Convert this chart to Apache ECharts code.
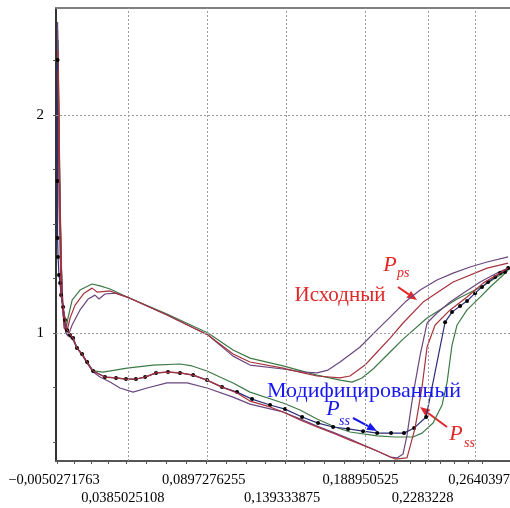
<!DOCTYPE html>
<html lang="ru">
<head>
<meta charset="UTF-8">
<title>Распределение давления</title>
<script src="https://cdn.jsdelivr.net/npm/echarts@6.0.0/dist/echarts.min.js"></script>
<style>
  html, body { margin: 0; padding: 0; background: #fff; }
  #chart { width: 510px; height: 508px; }
</style>
</head>
<body>
<div id="chart"></div>
<script>
// axis ticks as printed on the original
const xTickValues = [-0.0050271763, 0.0385025108, 0.0897276255, 0.139333875, 0.188950525, 0.2283228, 0.2640397];
const xTickLabels = ['−0,0050271763', '0,0385025108', '0,0897276255', '0,139333875', '0,188950525', '0,2283228', '0,2640397'];
const yTickValues = [1, 2];
const yTickLabels = ['1', '2'];
const yMinorTicks = [0.5, 0.75, 1, 1.25, 1.5, 1.75, 2, 2.25];

// green: pressure side / suction side
const greenPs = [[-0.0044,2.344],[-0.0031,1.610],[-0.0019,1.197],[-0.0006,1.037],[0.0006,1.014],[0.0019,1.069],[0.0045,1.151],[0.0095,1.197],[0.0171,1.225],[0.0222,1.216],[0.0285,1.202],[0.0393,1.165],[0.0646,1.087],[0.0905,1.000],[0.1064,0.922],[0.1171,0.885],[0.1380,0.849],[0.1595,0.807],[0.1741,0.784],[0.1817,0.775],[0.1880,0.794],[0.1950,0.835],[0.2058,0.913],[0.2140,0.972],[0.2292,1.069],[0.2482,1.156],[0.2647,1.216],[0.2735,1.257],[0.2805,1.289]];
const greenSs = [[-0.0044,2.252],[-0.0031,1.518],[-0.0019,1.174],[-0.0006,1.050],[0.0013,1.009],[0.0051,0.972],[0.0076,0.931],[0.0108,0.904],[0.0140,0.862],[0.0178,0.826],[0.0241,0.821],[0.0317,0.830],[0.0393,0.839],[0.0557,0.853],[0.0728,0.858],[0.0804,0.849],[0.0899,0.826],[0.0994,0.794],[0.1064,0.771],[0.1171,0.729],[0.1380,0.679],[0.1488,0.647],[0.1595,0.606],[0.1710,0.569],[0.1804,0.546],[0.1976,0.528],[0.2089,0.523],[0.2203,0.523],[0.2260,0.541],[0.2330,0.587],[0.2387,0.670],[0.2419,0.775],[0.2450,0.945],[0.2482,1.037],[0.2545,1.106],[0.2628,1.165],[0.2691,1.211],[0.2774,1.266],[0.2805,1.289]];

// red (original)
const redPs = [[-0.0044,2.298],[-0.0031,1.564],[-0.0019,1.174],[-0.0006,1.023],[0.0013,1.009],[0.0032,1.069],[0.0064,1.128],[0.0121,1.183],[0.0171,1.206],[0.0203,1.188],[0.0285,1.193],[0.0393,1.165],[0.0646,1.083],[0.0905,0.991],[0.1064,0.904],[0.1171,0.867],[0.1380,0.839],[0.1507,0.817],[0.1595,0.803],[0.1741,0.794],[0.1804,0.803],[0.1899,0.853],[0.1976,0.913],[0.2058,0.977],[0.2140,1.046],[0.2267,1.142],[0.2457,1.234],[0.2672,1.298],[0.2805,1.321]];
const redSs = [[-0.0044,2.206],[-0.0031,1.472],[-0.0025,1.174],[-0.0012,1.119],[0.0013,1.014],[0.0051,0.977],[0.0076,0.931],[0.0108,0.904],[0.0140,0.867],[0.0178,0.826],[0.0253,0.798],[0.0323,0.794],[0.0386,0.789],[0.0449,0.789],[0.0507,0.798],[0.0576,0.817],[0.0652,0.821],[0.0728,0.817],[0.0811,0.807],[0.0899,0.784],[0.0994,0.752],[0.1089,0.725],[0.1171,0.688],[0.1298,0.661],[0.1380,0.638],[0.1488,0.601],[0.1595,0.569],[0.1710,0.537],[0.1804,0.509],[0.1887,0.486],[0.1976,0.459],[0.2089,0.422],[0.2165,0.427],[0.2216,0.564],[0.2260,0.752],[0.2292,0.936],[0.2343,1.037],[0.2438,1.106],[0.2545,1.165],[0.2647,1.229],[0.2754,1.275],[0.2805,1.298]];

// purple
const purplePs = [[-0.0047,2.427],[-0.0038,1.839],[-0.0025,1.335],[-0.0012,1.106],[0.0006,1.000],[0.0019,0.986],[0.0045,1.037],[0.0095,1.106],[0.0146,1.156],[0.0190,1.174],[0.0215,1.156],[0.0253,1.179],[0.0317,1.183],[0.0393,1.165],[0.0646,1.083],[0.0905,0.991],[0.1064,0.894],[0.1171,0.853],[0.1380,0.835],[0.1507,0.821],[0.1595,0.817],[0.1665,0.830],[0.1741,0.867],[0.1868,0.936],[0.1963,1.005],[0.2058,1.073],[0.2153,1.142],[0.2248,1.197],[0.2355,1.243],[0.2457,1.275],[0.2564,1.303],[0.2672,1.326],[0.2805,1.349]];
const purpleSs = [[-0.0047,2.390],[-0.0038,1.610],[-0.0025,1.197],[-0.0012,1.083],[0.0006,1.000],[0.0051,0.968],[0.0076,0.931],[0.0108,0.899],[0.0140,0.862],[0.0178,0.821],[0.0222,0.798],[0.0285,0.775],[0.0348,0.748],[0.0431,0.729],[0.0519,0.748],[0.0646,0.771],[0.0773,0.771],[0.0899,0.748],[0.1064,0.706],[0.1171,0.674],[0.1380,0.638],[0.1488,0.606],[0.1595,0.573],[0.1710,0.541],[0.1804,0.514],[0.1887,0.486],[0.1976,0.459],[0.2058,0.431],[0.2102,0.427],[0.2140,0.445],[0.2165,0.532],[0.2203,0.716],[0.2248,0.899],[0.2292,1.046],[0.2355,1.092],[0.2438,1.142],[0.2520,1.183],[0.2628,1.234],[0.2735,1.275],[0.2805,1.298]];

// modified suction side (dots)
const modifiedSs = [[-0.0047,2.252],[-0.0047,1.697],[-0.0047,1.436],[-0.0044,1.349],[-0.0038,1.266],[-0.0031,1.229],[-0.0025,1.174],[-0.0012,1.119],[0.0000,1.060],[0.0013,1.014],[0.0032,0.991],[0.0051,0.977],[0.0076,0.931],[0.0108,0.904],[0.0140,0.867],[0.0178,0.826],[0.0253,0.798],[0.0323,0.794],[0.0386,0.789],[0.0449,0.789],[0.0507,0.798],[0.0576,0.817],[0.0652,0.821],[0.0728,0.817],[0.0811,0.807],[0.0899,0.784],[0.0994,0.752],[0.1089,0.729],[0.1184,0.697],[0.1298,0.670],[0.1393,0.651],[0.1501,0.615],[0.1602,0.587],[0.1697,0.569],[0.1792,0.560],[0.1887,0.550],[0.1976,0.541],[0.2064,0.541],[0.2146,0.541],[0.2210,0.564],[0.2286,0.615],[0.2406,1.050],[0.2450,1.096],[0.2501,1.124],[0.2545,1.147],[0.2596,1.183],[0.2640,1.211],[0.2678,1.234],[0.2723,1.257],[0.2754,1.275],[0.2786,1.280],[0.2805,1.298]];

const GREEN = '#3e7a46', RED = '#a8323e', PURPLE = '#6b4680', NAVY = '#2b2f7a';
const SERIF = '"Liberation Serif", "DejaVu Serif", serif';
const X_MIN = -0.0057, X_MAX = 0.2817;

// small ticks: each labelled interval split in 4
const xMinorTicks = [];
for (let i = 0; i < xTickValues.length - 1; i++) {
    const a = xTickValues[i], b = xTickValues[i + 1];
    for (let k = 0; k < 4; k++) xMinorTicks.push(a + (b - a) * k / 4);
}
xMinorTicks.push(xTickValues[xTickValues.length - 1]);

// labels alternate between two rows
const rowA = xTickValues.filter(function (v, i) { return i % 2 === 0; });
const rowB = xTickValues.filter(function (v, i) { return i % 2 === 1; });

function labelFor(value) {
    let best = 0;
    xTickValues.forEach(function (v, i) {
        if (Math.abs(v - value) < Math.abs(xTickValues[best] - value)) best = i;
    });
    return xTickLabels[best];
}

function curve(name, data, color, z) {
    return { name: name, type: 'line', data: data, symbol: 'none', z: z,
        lineStyle: { color: color, width: 1.2 } };
}

function arrow(x1, y1, x2, y2, color) {
    const dx = x2 - x1, dy = y2 - y1, len = Math.hypot(dx, dy);
    const ux = dx / len, uy = dy / len, hl = 10, hw = 4;
    const bx = x2 - ux * hl, by = y2 - uy * hl;
    return [
        { type: 'line', shape: { x1: x1, y1: y1, x2: bx, y2: by }, style: { stroke: color, lineWidth: 2 } },
        { type: 'polygon', shape: { points: [[x2, y2], [bx - uy * hw, by + ux * hw], [bx + uy * hw, by - ux * hw]] }, style: { fill: color } }
    ];
}

function txt(x, y, s, size, color, italic, align) {
    return { type: 'text', x: x, y: y, z: 10, style: { text: s, fill: color,
        font: (italic ? 'italic ' : '') + size + 'px ' + SERIF,
        align: align || 'center', verticalAlign: 'middle' } };
}

function labelRow(values, margin) {
    return { customValues: values, formatter: labelFor, color: '#000', fontFamily: SERIF,
        fontSize: 14.5, margin: margin, padding: [0, 6, 0, 0],
        hideOverlap: false, showMinLabel: true, showMaxLabel: true };
}

const chart = echarts.init(document.getElementById('chart'));

chart.setOption({
    animation: false,
    grid: { left: 56, right: 0, top: 8, bottom: 47, containLabel: false, outerBoundsMode: 'none' },
    xAxis: [{
        type: 'value', min: X_MIN, max: X_MAX, position: 'bottom',
        axisLine: { show: true, onZero: false, lineStyle: { color: '#555', width: 2 } },
        axisTick: { show: true, length: 3, customValues: xMinorTicks, lineStyle: { color: '#555' } },
        axisLabel: labelRow(rowA, 12),
        splitLine: { show: false }
    }, {
        type: 'value', min: X_MIN, max: X_MAX, position: 'bottom',
        axisLine: { show: false }, axisTick: { show: false },
        axisLabel: labelRow(rowB, 30),
        splitLine: { show: false }
    }, {
        type: 'value', min: X_MIN, max: X_MAX, position: 'top',
        axisLine: { show: true, onZero: false, lineStyle: { color: '#808080', width: 2 } },
        axisTick: { show: false }, axisLabel: { show: false }, splitLine: { show: false }
    }],
    yAxis: {
        type: 'value', min: 0.413, max: 2.491,
        axisLine: { show: true, onZero: false, lineStyle: { color: '#333', width: 2 } },
        axisTick: { show: true, length: 3, customValues: yMinorTicks, lineStyle: { color: '#555' } },
        axisLabel: { customValues: yTickValues, formatter: function (v) { return yTickLabels[yTickValues.indexOf(v)]; },
            color: '#000', fontFamily: SERIF, fontSize: 15, margin: 12 },
        splitLine: { show: false }
    },
    series: [
        {
            type: 'line', data: [], z: 1, silent: true,
            markLine: {
                silent: true, symbol: 'none', label: { show: false }, animation: false,
                lineStyle: { color: '#9a9a9a', width: 1, type: [2, 2] },
                data: xTickValues.slice(1).map(function (v) { return { xAxis: v }; })
                    .concat(yTickValues.map(function (v) { return { yAxis: v }; }))
            }
        },
        curve('green Pps', greenPs, GREEN, 2),
        curve('green Pss', greenSs, GREEN, 2),
        curve('purple Pps', purplePs, PURPLE, 2),
        curve('purple Pss', purpleSs, PURPLE, 2),
        curve('red Pps', redPs, RED, 2),
        {
            name: 'modified Pss', type: 'line', data: modifiedSs, z: 3,
            symbol: 'circle', symbolSize: 4, showAllSymbol: true,
            itemStyle: { color: '#000' },
            lineStyle: { color: NAVY, width: 1.2 }
        },
        curve('red Pss', redSs, RED, 4)
    ],
    graphic: [
        txt(390, 265, 'P', 22, '#e02828', true),
        txt(397, 273, 'ps', 14, '#e02828', true, 'left'),
        txt(340, 295, 'Исходный', 21, '#e02828', false),
        txt(364, 391, 'Модифицированный', 22, '#1818f0', false),
        txt(333, 409, 'P', 22, '#1818f0', true),
        txt(339, 421, 'ss', 14, '#1818f0', true, 'left'),
        txt(456, 434, 'P', 22, '#e02828', true),
        txt(464, 443, 'ss', 14, '#e02828', true, 'left')
    ].concat(arrow(398, 287, 417, 300, '#e02828'))
     .concat(arrow(353, 418, 377, 431, '#1818f0'))
     .concat(arrow(447, 427, 420, 407, '#e02828'))
});
</script>
</body>
</html>
